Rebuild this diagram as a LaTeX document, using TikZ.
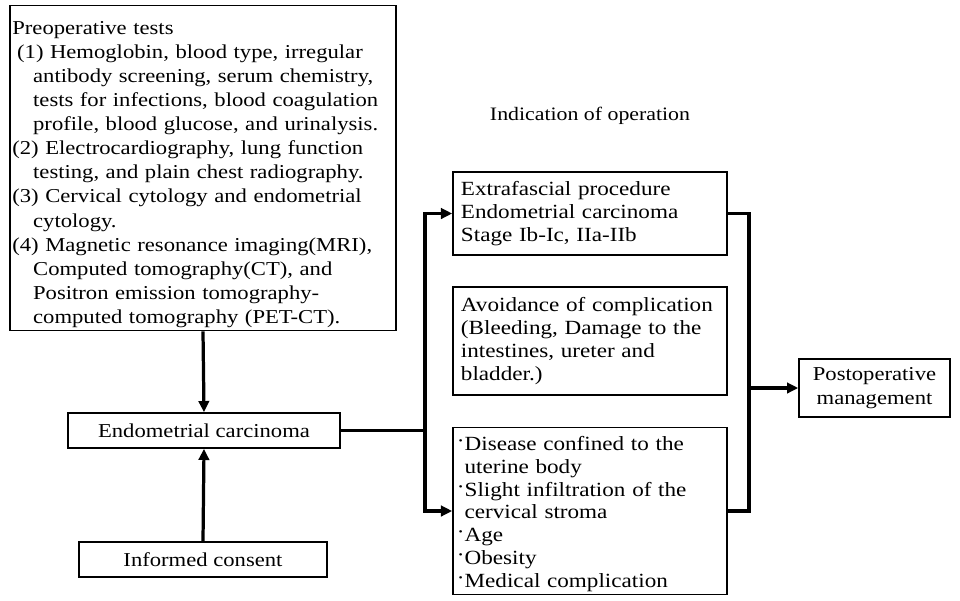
\documentclass[tikz,border=0pt]{standalone}
\usepackage{fontspec}
\setmainfont{Liberation Serif}[FakeStretch=1.15]
\usetikzlibrary{arrows.meta}
\newcommand{\bul}{\raisebox{0.3ex}{·}}
\newcommand{\hang}{\hspace*{0.52cm}}
\tikzset{
	box/.style={draw, line width=1.1pt, inner xsep=0.2cm, inner ysep=2pt,
		align=left},
	wbox/.style={box, font=\fontsize{14.3}{16.2}\selectfont},
	conn/.style={line width=2.3pt},
	arr/.style={conn, -{Triangle[length=2.8mm, width=2.6mm]}},
}
\begin{document}
\begin{tikzpicture}[x=0.025cm, y=-0.025cm, font=\fontsize{14}{17.15}\selectfont]
	\useasboundingbox (0,0) rectangle (960,600);
	% left column
	\node[box, text width=9.53cm, minimum height=8.1cm, inner xsep=0.06cm] (pre) at (203,168)
	{\rule{0pt}{0.65cm}Preoperative tests\\
		\hspace*{0.12cm}(1) Hemoglobin, blood type, irregular\\
		\hang antibody screening, serum chemistry,\\
		\hang tests for infections, blood coagulation\\
		\hang profile, blood glucose, and urinalysis.\\
		(2) Electrocardiography, lung function\\
		\hang testing, and plain chest radiography.\\
		(3) Cervical cytology and endometrial\\
		\hang cytology.\\
		(4) Magnetic resonance imaging(MRI),\\
		\hang Computed tomography(CT), and\\
		\hang Positron emission tomography-\\
		\hang computed tomography (PET-CT).};
	\node[box, minimum width=6.8cm, minimum height=0.875cm, align=center] (endo) at (204,430.5)
	{Endometrial carcinoma};
	\node[box, minimum width=6.2cm, minimum height=0.875cm, align=center] (inf) at (203,559.5)
	{Informed consent};
	% indications
	\node[font=\fontsize{13.5}{16}\selectfont] (ind) at (590,116) {Indication of operation};
	\node[wbox, text width=6.45cm, minimum height=2.075cm] (ext) at (590,213.5)
	{Extrafascial procedure\\
		Endometrial carcinoma\\
		Stage Ib-Ic, IIa-IIb};
	\node[wbox, text width=6.45cm, minimum height=2.7cm] (avoid) at (590,341)
	{Avoidance of complication\\
		(Bleeding, Damage to the\\
		intestines, ureter and\\
		bladder.)};
	\node[wbox, text width=6.65cm, minimum height=3.95cm, inner xsep=0.1cm] (crit) at (590,511)
	{\rule{0pt}{0.5cm}\bul Disease confined to the\\
		\phantom{\bul}uterine body\\
		\bul Slight infiltration of the\\
		\phantom{\bul}cervical stroma\\
		\bul Age\\
		\bul Obesity\\
		\bul Medical complication};
	\node[box, minimum width=3.775cm, minimum height=1.45cm, align=center] (post) at (874.5,388)
	{Postoperative\\management};
	% connectors
	\coordinate (jl) at (425,430.5);
	\coordinate (jr) at (749,388);
	\draw[arr] (pre.south) -- (endo.north);
	\draw[arr] (inf.north) -- (endo.south);
	\draw[conn] (endo.east) -- (jl);
	\draw[arr] (jl) |- (ext.west);
	\draw[arr] (jl) |- (crit.west);
	\draw[conn] (ext.east) -| (jr) |- (crit.east);
	\draw[arr] (jr) -- (post.west);
\end{tikzpicture}
\end{document}
